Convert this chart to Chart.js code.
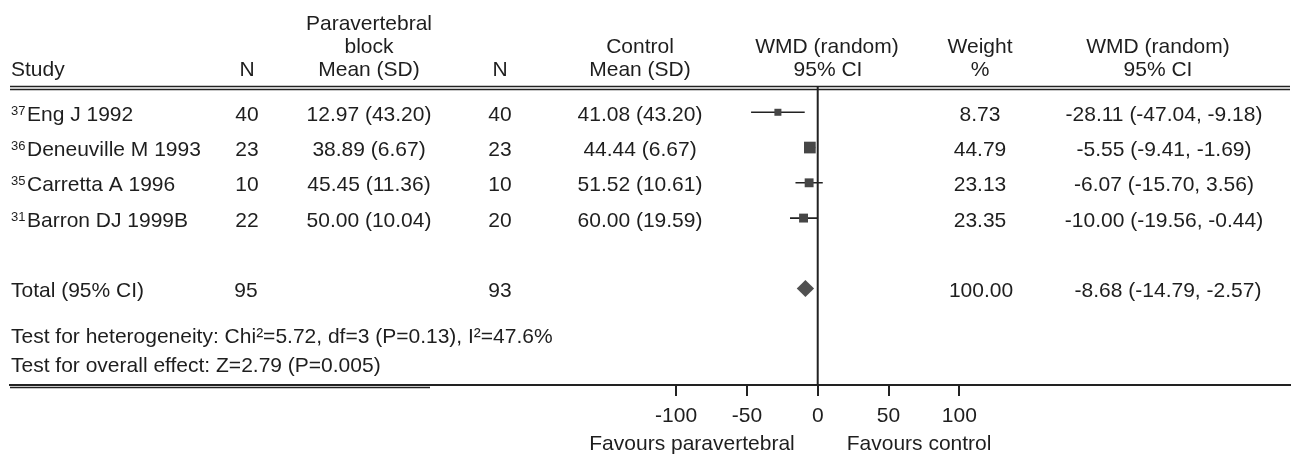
<!DOCTYPE html>
<html>
<head>
<meta charset="utf-8">
<script src="https://cdn.jsdelivr.net/npm/chart.js@4.4.1/dist/chart.umd.min.js"></script>
<style>
  html, body { margin: 0; padding: 0; background: #fff; }
</style>
</head>
<body>
<canvas id="forest" width="1291" height="458"></canvas>
<script>
// study rows
var refs = ["37", "36", "35", "31"];
var studies = ["Eng J 1992", "Deneuville M 1993", "Carretta A 1996", "Barron DJ 1999B"];
var nPara = [40, 23, 10, 22];
var meanPara = ["12.97 (43.20)", "38.89 (6.67)", "45.45 (11.36)", "50.00 (10.04)"];
var nCtrl = [40, 23, 10, 20];
var meanCtrl = ["41.08 (43.20)", "44.44 (6.67)", "51.52 (10.61)", "60.00 (19.59)"];
var wmd = [-28.11, -5.55, -6.07, -10.00];
var ciLow = [-47.04, -9.41, -15.70, -19.56];
var ciHigh = [-9.18, -1.69, 3.56, -0.44];
var weights = [8.73, 44.79, 23.13, 23.35];

// pooled result
var totalN = [95, 93];
var totalWmd = [-8.68];
var totalCi = [-14.79, -2.57];
var totalWeight = [100.00];

var xTicks = [-100, -50, 0, 50, 100];
var footLines = [
    "Test for heterogeneity: Chi\u00b2=5.72, df=3 (P=0.13), I\u00b2=47.6%",
    "Test for overall effect: Z=2.79 (P=0.005)"
];

var FONT = '"Liberation Sans", Arial, Helvetica, sans-serif';
var INK = '#1e1e1e';
var TOTAL_ROW = 5;

Chart.defaults.font.family = FONT;

function fmt(v) { return v.toFixed(2); }

function txt(ctx, s, x, y, align, size) {
    ctx.font = (size || 21) + 'px ' + FONT;
    ctx.textAlign = align || 'left';
    ctx.textBaseline = 'alphabetic';
    ctx.fillStyle = INK;
    ctx.fillText(s, x, y);
    return ctx.measureText(s).width;
}

function hline(ctx, x1, x2, y, w) {
    ctx.beginPath();
    ctx.lineWidth = w;
    ctx.strokeStyle = '#222';
    ctx.moveTo(x1, y);
    ctx.lineTo(x2, y);
    ctx.stroke();
}

// CI whiskers, one segment per study
var whiskers = [];
studies.forEach(function (s, i) {
    whiskers.push({ x: ciLow[i], y: i });
    whiskers.push({ x: ciHigh[i], y: i });
    whiskers.push({ x: null, y: null });
});

var forestPlugin = {
    id: 'forest',
    beforeDatasetsDraw: function (chart) {
        var ctx = chart.ctx, a = chart.chartArea;
        var x0 = chart.scales.x.getPixelForValue(0);
        ctx.save();
        // header rule (double)
        hline(ctx, 10, 1290, 86.5, 1.6);
        hline(ctx, 10, 1290, 89.5, 1.6);
        // bottom rule (second stroke under the table part)
        hline(ctx, 10, 430, 387.5, 1.4);
        // line of no effect
        ctx.beginPath();
        ctx.lineWidth = 2;
        ctx.strokeStyle = '#222';
        ctx.moveTo(x0, a.top);
        ctx.lineTo(x0, a.bottom);
        ctx.stroke();
        ctx.restore();
    },
    afterDatasetsDraw: function (chart) {
        var ctx = chart.ctx;
        var xs = chart.scales.x, ys = chart.scales.y;
        // pooled diamond
        var yc = ys.getPixelForValue(TOTAL_ROW);
        var xl = xs.getPixelForValue(totalCi[0]);
        var xm = xs.getPixelForValue(totalWmd[0]);
        var xr = xs.getPixelForValue(totalCi[1]);
        ctx.save();
        ctx.beginPath();
        ctx.moveTo(xl, yc);
        ctx.lineTo(xm, yc - 8.5);
        ctx.lineTo(xr, yc);
        ctx.lineTo(xm, yc + 8.5);
        ctx.closePath();
        ctx.fillStyle = '#505050';
        ctx.fill();
        ctx.restore();
    },
    afterDraw: function (chart) {
        var ctx = chart.ctx;
        var xs = chart.scales.x, ys = chart.scales.y;
        var x0 = xs.getPixelForValue(0);
        ctx.save();
        // column headers
        txt(ctx, "Paravertebral", 369, 29.5, 'center');
        txt(ctx, "block", 369, 52.5, 'center');
        txt(ctx, "Control", 640, 52.5, 'center');
        txt(ctx, "WMD (random)", 827, 52.5, 'center');
        txt(ctx, "Weight", 980, 52.5, 'center');
        txt(ctx, "WMD (random)", 1158, 52.5, 'center');
        txt(ctx, "Study", 11, 76);
        txt(ctx, "N", 247, 76, 'center');
        txt(ctx, "Mean (SD)", 369, 76, 'center');
        txt(ctx, "N", 500, 76, 'center');
        txt(ctx, "Mean (SD)", 640, 76, 'center');
        txt(ctx, "95% CI", 828, 76, 'center');
        txt(ctx, "%", 980, 76, 'center');
        txt(ctx, "95% CI", 1158, 76, 'center');

        // study rows
        studies.forEach(function (s, i) {
            var b = ys.getPixelForValue(i) + 8.5;
            var w = txt(ctx, refs[i], 11, b - 6, 'left', 13);
            txt(ctx, s, 11 + w + 1.5, b);
            txt(ctx, String(nPara[i]), 247, b, 'center');
            txt(ctx, meanPara[i], 369, b, 'center');
            txt(ctx, String(nCtrl[i]), 500, b, 'center');
            txt(ctx, meanCtrl[i], 640, b, 'center');
            txt(ctx, fmt(weights[i]), 980, b, 'center');
            txt(ctx, fmt(wmd[i]) + ' (' + fmt(ciLow[i]) + ', ' + fmt(ciHigh[i]) + ')', 1164, b, 'center');
        });

        // total row
        var tb = ys.getPixelForValue(TOTAL_ROW) + 8.5;
        txt(ctx, "Total (95% CI)", 11, tb);
        txt(ctx, String(totalN[0]), 246, tb, 'center');
        txt(ctx, String(totalN[1]), 500, tb, 'center');
        txt(ctx, fmt(totalWeight[0]), 981, tb, 'center');
        txt(ctx, fmt(totalWmd[0]) + ' (' + fmt(totalCi[0]) + ', ' + fmt(totalCi[1]) + ')', 1168, tb, 'center');

        // tests
        txt(ctx, footLines[0], 11, 343);
        txt(ctx, footLines[1], 11, 371.5);

        // favours labels
        txt(ctx, "Favours paravertebral", x0 - 23, 449.5, 'right');
        txt(ctx, "Favours control", x0 + 29, 449.5, 'left');
        ctx.restore();
    }
};

new Chart(document.getElementById('forest'), {
    data: {
        datasets: [{
            type: 'scatter',
            data: wmd.map(function (v, i) { return { x: v, y: i }; }),
            pointStyle: 'rect',
            pointRadius: function (c) { return 4.15 + 0.092 * weights[c.dataIndex]; },
            backgroundColor: '#464646',
            borderWidth: 0,
            order: 0
        }, {
            type: 'line',
            data: whiskers,
            borderColor: '#222',
            borderWidth: 1.6,
            pointRadius: 0,
            spanGaps: false,
            order: 1
        }]
    },
    options: {
        responsive: false,
        animation: false,
        devicePixelRatio: 1,
        layout: { autoPadding: false, padding: { left: 10, right: 1, top: 86, bottom: 0 } },
        plugins: {
            legend: { display: false },
            tooltip: { enabled: false }
        },
        scales: {
            x: {
                type: 'linear',
                min: -570.2,
                max: 333.4,
                afterBuildTicks: function (s) {
                    s.ticks = xTicks.map(function (v) { return { value: v }; });
                },
                afterFit: function (s) { s.height = 73; },
                grid: { drawOnChartArea: false, drawTicks: true, tickLength: 11, color: '#222', lineWidth: 2 },
                border: { display: true, color: '#222', width: 2 },
                ticks: { color: INK, font: { size: 21 }, padding: 8, maxRotation: 0, autoSkip: false }
            },
            y: {
                type: 'linear',
                display: false,
                reverse: true,
                min: -0.745,
                max: 7.733
            }
        }
    },
    plugins: [forestPlugin]
});
</script>
</body>
</html>
